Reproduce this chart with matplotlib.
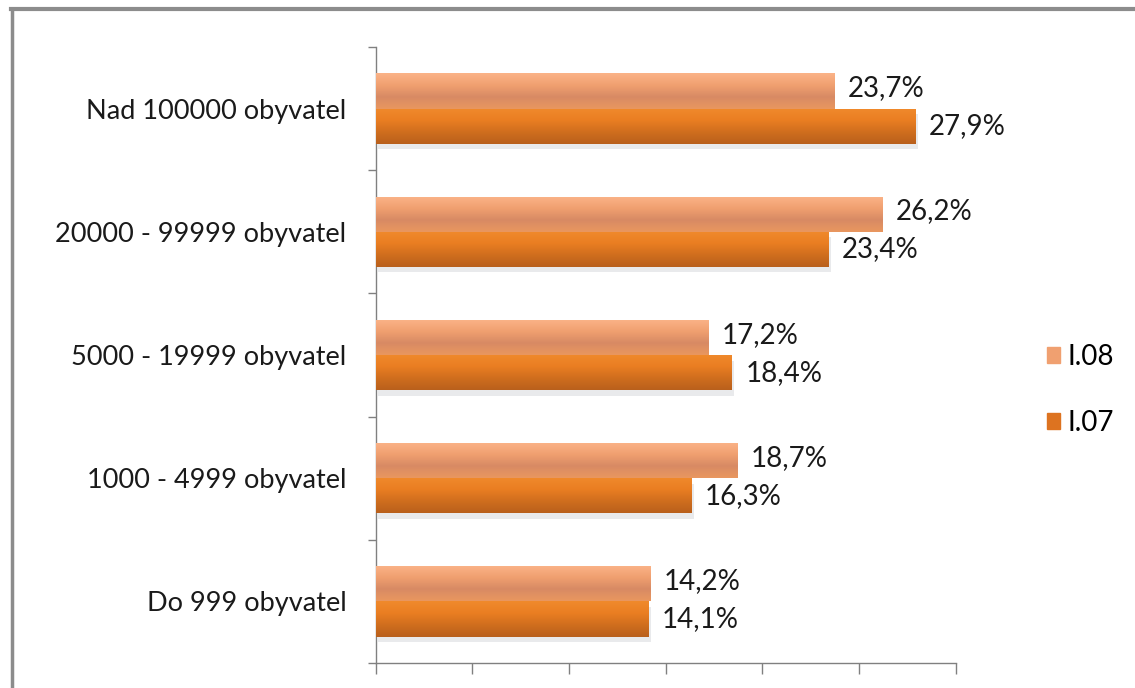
import matplotlib.pyplot as plt
import numpy as np
from matplotlib.colors import LinearSegmentedColormap
from matplotlib.lines import Line2D
import matplotlib.patheffects as pe

categories = ["Nad 100000 obyvatel", "20000 - 99999 obyvatel", "5000 - 19999 obyvatel",
              "1000 - 4999 obyvatel", "Do 999 obyvatel"]
val_08 = [23.7, 26.2, 17.2, 18.7, 14.2]
val_07 = [27.9, 23.4, 18.4, 16.3, 14.1]
labels_08 = ["23,7%", "26,2%", "17,2%", "18,7%", "14,2%"]
labels_07 = ["27,9%", "23,4%", "18,4%", "16,3%", "14,1%"]
series_names = ["I.08", "I.07"]

plt.rcParams['font.family'] = ['Lato', 'DejaVu Sans']

fig = plt.figure(figsize=(11.35, 6.88), dpi=100)
ax = fig.add_axes([0.331, 0.0363, 0.511, 0.8954])

n = len(categories)
y = np.arange(n)[::-1]  # first category on top
h = 0.285

cmap08 = LinearSegmentedColormap.from_list("c08", ["#fbb388", "#f0a070", "#d88a64", "#e9975f"])
cmap07 = LinearSegmentedColormap.from_list("c07", ["#f08a2c", "#ea7e22", "#d06e1e", "#b9601c"])

shadow = [pe.SimplePatchShadow(offset=(2, -4), shadow_rgbFace="#a8aeb6", alpha=0.25), pe.Normal()]
b08 = ax.barh(y + h / 2, val_08, height=h, color="#f0a070", label=series_names[0], zorder=2)
b07 = ax.barh(y - h / 2, val_07, height=h, color="#e07a20", label=series_names[1], zorder=2,
              path_effects=shadow)

# vertical gradient fill clipped to each bar
grad = np.linspace(0, 1, 64).reshape(-1, 1)
for bars, cm in ((b08, cmap08), (b07, cmap07)):
    for bar in bars:
        x0, y0 = bar.get_x(), bar.get_y()
        w, hh = bar.get_width(), bar.get_height()
        im = ax.imshow(grad, cmap=cm, aspect='auto', extent=(x0, x0 + w, y0, y0 + hh),
                       origin='upper', zorder=3)
        im.set_clip_path(bar)

for bar, lab in zip(b08, labels_08):
    ax.annotate(lab, (bar.get_width(), bar.get_y() + bar.get_height() / 2),
                xytext=(10, 2), textcoords='offset points', va='center', ha='left',
                fontsize=20, color="#1a1a1a", zorder=5)
for bar, lab in zip(b07, labels_07):
    ax.annotate(lab, (bar.get_width(), bar.get_y() + bar.get_height() / 2),
                xytext=(10, 0), textcoords='offset points', va='center', ha='left',
                fontsize=20, color="#1a1a1a", zorder=5)

ax.set_xlim(0, 30)
ax.set_ylim(-0.5, n - 0.5)
ax.set_xticks(np.arange(0, 31, 5))
ax.set_xticklabels([])
ax.tick_params(axis='x', direction='out', length=8, color="#808080", width=1)

ax.set_yticks(y)
ax.set_yticklabels(categories, fontsize=19.5, color="#1a1a1a")
ax.set_yticks(np.arange(n + 1) - 0.5, minor=True)
ax.tick_params(axis='y', which='major', length=0, pad=21)
ax.tick_params(axis='y', which='minor', direction='out', length=6, color="#808080", width=1)

for s in ("top", "right"):
    ax.spines[s].set_visible(False)
for s in ("left", "bottom"):
    ax.spines[s].set_color("#808080")
    ax.spines[s].set_linewidth(1)

handles = [plt.Rectangle((0, 0), 1, 1, color=c) for c in ("#f0a070", "#dd7320")]
leg = fig.legend(handles, series_names, loc='center left', bbox_to_anchor=(0.9, 0.433),
                 frameon=False, fontsize=20, handlelength=0.5, handleheight=0.5,
                 handletextpad=0.25, labelspacing=1.45)

# outer chart frame (left and top edges)
fig.add_artist(Line2D([0.0108, 0.0108], [0, 0.987], transform=fig.transFigure,
                      color="#8c8c8c", lw=2.5))
fig.add_artist(Line2D([0.0095, 1], [0.987, 0.987], transform=fig.transFigure,
                      color="#8c8c8c", lw=3))

fig.savefig("out.png", dpi=100)
